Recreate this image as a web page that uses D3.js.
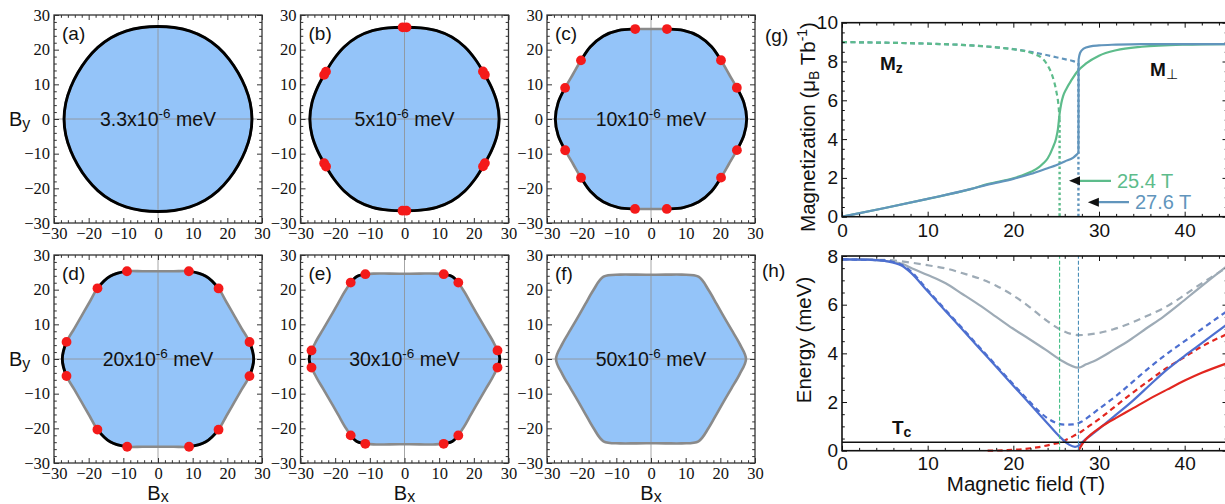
<!DOCTYPE html>
<html>
<head>
<meta charset="utf-8">
<script src="https://cdn.jsdelivr.net/npm/d3@7"></script>
<style>
  body { margin: 0; background: #fff; }
  svg { display: block; }
</style>
</head>
<body>
<svg id="fig" width="1225" height="504"></svg>
<script>
// ================= data =================

// Panels (a)-(f): critical-field contour in the (Bx, By) plane, in tesla,
// given as radius at each polar angle (degrees).
const panelTags   = ["(a)", "(b)", "(c)", "(d)", "(e)", "(f)"];
const panelLevels = ["3.3", "5", "10", "20", "30", "50"];   // x10^-6 meV
const contourAngles = [0,10,20,30,40,50,60,70,80,90,100,110,120,130,140,150,160,170,
                       180,190,200,210,220,230,240,250,260,270,280,290,300,310,320,330,340,350];
const radiusA = [27.1,27.0,26.8,26.7,26.8,27.0, 27.1,27.0,26.8,26.7,26.8,27.0, 27.1,27.0,26.8,26.7,26.8,27.0,
                 27.1,27.0,26.8,26.7,26.8,27.0, 27.1,27.0,26.8,26.7,26.8,27.0, 27.1,27.0,26.8,26.7,26.8,27.0];
const radiusB = [27.3,27.1,26.7,26.45,26.7,27.1, 27.3,27.1,26.7,26.45,26.7,27.1, 27.3,27.1,26.7,26.45,26.7,27.1,
                 27.3,27.1,26.7,26.45,26.7,27.1, 27.3,27.1,26.7,26.45,26.7,27.1, 27.3,27.1,26.7,26.45,26.7,27.1];
const radiusC = [27.6,27.2,26.35,25.95,26.35,27.2, 27.6,27.2,26.35,25.95,26.35,27.2, 27.6,27.2,26.35,25.95,26.35,27.2,
                 27.6,27.2,26.35,25.95,26.35,27.2, 27.6,27.2,26.35,25.95,26.35,27.2, 27.6,27.2,26.35,25.95,26.35,27.2];
const radiusD = [27.6,26.9,25.7,25.3,25.7,26.9, 27.6,26.9,25.7,25.3,25.7,26.9, 27.6,26.9,25.7,25.3,25.7,26.9,
                 27.6,26.9,25.7,25.3,25.7,26.9, 27.6,26.9,25.7,25.3,25.7,26.9, 27.6,26.9,25.7,25.3,25.7,26.9];
const radiusE = [27.5,26.2,25.0,24.6,25.0,26.2, 27.5,26.2,25.0,24.6,25.0,26.2, 27.5,26.2,25.0,24.6,25.0,26.2,
                 27.5,26.2,25.0,24.6,25.0,26.2, 27.5,26.2,25.0,24.6,25.0,26.2, 27.5,26.2,25.0,24.6,25.0,26.2];
const radiusF = [27.4,25.9,24.7,24.3,24.7,25.9, 27.4,25.9,24.7,24.3,24.7,25.9, 27.4,25.9,24.7,24.3,24.7,25.9,
                 27.4,25.9,24.7,24.3,24.7,25.9, 27.4,25.9,24.7,24.3,24.7,25.9, 27.4,25.9,24.7,24.3,24.7,25.9];
const panelRadii = [radiusA, radiusB, radiusC, radiusD, radiusE, radiusF];
// first-order (black) arcs are centred on these directions; second-order (gray)
// arcs are centred half-way between them with the given half-width in degrees
const firstOrderDirs = [0, 60, 120, 180, 240, 300];
const secondOrderDirs = [30, 90, 150, 210, 270, 330];
const grayHalfWidth = [0, 1.2, 10, 19.4, 24.8, 30];

const bTicks = [-30, -20, -10, 0, 10, 20, 30];
const bTickLabels = ["\u221230", "\u221220", "\u221210", "0", "10", "20", "30"];

// Panel (g): magnetization vs field (T) for the two critical fields
const critFields = [25.4, 27.6];
const critLabels = ["25.4 T", "27.6 T"];

const fieldPerpA = [0, 5, 10, 15, 17, 20, 21, 22, 23, 23.5, 24, 24.6, 25, 25.2, 25.4, 25.6, 25.8, 26.2, 26.8, 27.5, 28.5, 30, 32, 35, 40, 45];
const mPerpA     = [0, 0.45, 0.92, 1.42, 1.68, 1.98, 2.12, 2.3, 2.55, 2.75, 3.0, 3.55, 4.05, 4.5, 5.3, 5.85, 6.2, 6.6, 7.05, 7.5, 7.9, 8.3, 8.58, 8.76, 8.87, 8.9];
const fieldPerpB = [0, 5, 10, 15, 17, 20, 22, 24, 25, 26, 27, 27.4, 27.6, 27.62, 27.8, 28.2, 29, 30, 32, 35, 40, 45];
const mPerpB     = [0, 0.45, 0.92, 1.42, 1.65, 1.95, 2.2, 2.5, 2.65, 2.85, 3.05, 3.2, 3.3, 8.1, 8.45, 8.66, 8.78, 8.83, 8.87, 8.9, 8.9, 8.9];
const fieldZA = [0, 5, 10, 15, 18, 20, 21.5, 22.5, 23.4, 24.0, 24.6, 25.0, 25.3, 25.4];
const mZA     = [9.0, 8.97, 8.92, 8.83, 8.73, 8.63, 8.52, 8.38, 8.15, 7.8, 7.2, 6.5, 5.6, 5.0];
const fieldZB = [0, 5, 10, 15, 18, 20, 22, 24, 25, 26, 27, 27.6];
const mZB     = [9.0, 8.97, 8.92, 8.83, 8.73, 8.64, 8.5, 8.32, 8.22, 8.12, 8.02, 7.92];

// Panel (h): excitation energies (meV) vs field (T)
const fieldGray   = [0, 3, 5, 7, 8.2, 10, 12.1, 14, 16, 18, 19.9, 21.9, 23.8, 25.5, 27.6, 28.5, 29.7, 31.6, 33.6, 35.5, 37.5, 39.5, 41.4, 43, 45];
const eGraySolid  = [7.86, 7.85, 7.8, 7.68, 7.49, 7.22, 6.88, 6.45, 5.99, 5.5, 5.03, 4.58, 4.14, 3.73, 3.41, 3.55, 3.73, 4.12, 4.55, 5.02, 5.5, 6.05, 6.6, 7.05, 7.6];
const fieldGrayD  = [0, 5, 8.2, 10, 12.1, 14, 16, 18, 19.9, 21.9, 23.8, 25.5, 27.6, 29.7, 31.6, 33.6, 35.5, 37.5, 39.5, 41.4, 43, 45];
const eGrayDashed = [7.86, 7.84, 7.72, 7.62, 7.49, 7.3, 7.08, 6.78, 6.4, 5.9, 5.37, 4.98, 4.75, 4.82, 4.98, 5.23, 5.52, 5.85, 6.28, 6.74, 7.1, 7.55];
const fieldBlue   = [0, 3, 5, 6, 7, 8, 10, 12, 14, 16, 18, 20, 22, 24, 25.4, 26.5, 27.2, 27.6, 28.2, 29, 30, 32, 34, 36, 38, 40, 42, 45];
const eBlueSolid  = [7.86, 7.85, 7.8, 7.72, 7.6, 7.33, 6.55, 5.77, 5.0, 4.22, 3.45, 2.67, 1.9, 1.12, 0.58, 0.25, 0.16, 0.2, 0.4, 0.62, 0.9, 1.48, 2.07, 2.72, 3.35, 3.9, 4.42, 5.2];
const fieldBlueD  = [0, 5, 6, 7, 8, 10, 12, 14, 16, 18, 20, 22, 23, 24, 25, 26, 27, 28, 29, 30, 32, 34, 36, 38, 40, 42, 45];
const eBlueDashed = [7.86, 7.82, 7.75, 7.63, 7.38, 6.6, 5.82, 5.05, 4.27, 3.5, 2.73, 1.98, 1.62, 1.33, 1.14, 1.07, 1.08, 1.2, 1.45, 1.72, 2.25, 2.85, 3.45, 4.0, 4.5, 5.0, 5.75];
const fieldRed    = [27.6, 28, 28.5, 29, 30, 31, 32, 34, 36, 38, 40, 42, 45];
const eRedSolid   = [0, 0.25, 0.48, 0.65, 0.92, 1.15, 1.35, 1.75, 2.15, 2.52, 2.88, 3.2, 3.6];
const fieldRedD   = [17, 19, 21, 22, 23, 24, 25, 26, 27, 28, 29, 30, 32, 34, 36, 38, 40, 42, 45];
const eRedDashed  = [0, 0.02, 0.06, 0.1, 0.15, 0.22, 0.3, 0.42, 0.6, 0.8, 1.05, 1.3, 1.85, 2.4, 2.92, 3.42, 3.85, 4.28, 4.8];
const tcEnergy = 0.35;

const fieldTicks = [0, 10, 20, 30, 40];
const fieldTickLabels = ["0", "10", "20", "30", "40"];
const magTicks = [0, 2, 4, 6, 8, 10];
const magTickLabels = ["0", "2", "4", "6", "8", "10"];
const energyTicks = [0, 2, 4, 6, 8];
const energyTickLabels = ["0", "2", "4", "6", "8"];

// ================= drawing =================
const svg = d3.select("#fig");
const defs = svg.append("defs");
const SANS = "'Liberation Sans', Arial, Helvetica, sans-serif";
const SERIF = "'Liberation Serif', 'Times New Roman', serif";

const FILL_BLUE = "#94c4f9";
const EDGE_GRAY = "#8a8a8a";
const DOT_RED = "#f41a1a";

// frame with inward ticks on all four sides
function frame(g, x, y, opt) {
  const [x0, x1] = x.range();
  const [yb, yt] = y.range();
  const place = (axis, tx, ty) => {
    const a = g.append("g").attr("transform", `translate(${tx},${ty})`).call(axis);
    a.select(".domain").remove();
    a.selectAll(".tick line").attr("stroke", opt.color).attr("stroke-width", 1);
    return a;
  };
  const mk = (gen, scale, vals, len, fmt) => gen(scale).tickValues(vals).tickSize(-len).tickFormat(fmt || (() => ""));
  // minor ticks
  place(mk(d3.axisBottom, x, opt.xMinor, opt.minorLen), 0, yb);
  place(mk(d3.axisTop, x, opt.xMinor, opt.minorLen), 0, yt);
  place(mk(d3.axisLeft, y, opt.yMinor, opt.minorLen), x0, 0);
  place(mk(d3.axisRight, y, opt.yMinor, opt.minorLen), x1, 0);
  // major ticks with labels on bottom and left
  const bx = place(mk(d3.axisBottom, x, opt.xMajor, opt.majorLen, (d, i) => opt.xLabels[i]).tickPadding(opt.xPad), 0, yb);
  place(mk(d3.axisTop, x, opt.xMajor, opt.majorLen), 0, yt);
  const ly = place(mk(d3.axisLeft, y, opt.yMajor, opt.majorLen, (d, i) => opt.yLabels[i]).tickPadding(opt.yPad), x0, 0);
  place(mk(d3.axisRight, y, opt.yMajor, opt.majorLen), x1, 0);
  [bx, ly].forEach(a => a.selectAll("text")
    .attr("font-family", opt.font).attr("font-size", opt.fontSize).attr("fill", "#111"));
  g.append("rect").attr("x", x0).attr("y", yt).attr("width", x1 - x0).attr("height", yb - yt)
    .attr("fill", "none").attr("stroke", opt.color).attr("stroke-width", opt.frameWidth);
}

// ---------- panels (a)-(f) ----------
const hexOrigins = [[54, 15], [300.5, 15], [547, 15], [54, 255], [300.5, 255], [547, 255]];
const hexSize = 208;
const toRad = d => d * Math.PI / 180;

panelTags.forEach((tag, i) => {
  const [ox, oy] = hexOrigins[i];
  const x = d3.scaleLinear().domain([-30, 30]).range([ox, ox + hexSize]);
  const y = d3.scaleLinear().domain([-30, 30]).range([oy + hexSize, oy]);
  const g = svg.append("g");
  const cx = x(0), cy = y(0);

  const pts = contourAngles.map((a, k) => {
    const r = panelRadii[i][k];
    return [x(r * Math.cos(toRad(a))), y(r * Math.sin(toRad(a)))];
  });
  const closed = d3.line().curve(d3.curveCatmullRomClosed.alpha(0.5));
  const d = closed(pts);

  g.append("path").attr("d", d).attr("fill", FILL_BLUE);

  // axis cross
  g.append("line").attr("x1", x(0)).attr("x2", x(0)).attr("y1", y(30)).attr("y2", y(-30))
    .attr("stroke", "#8f8f8f").attr("stroke-width", 0.8);
  g.append("line").attr("x1", x(-30)).attr("x2", x(30)).attr("y1", y(0)).attr("y2", y(0))
    .attr("stroke", "#8f8f8f").attr("stroke-width", 0.8);

  const outline = g.append("path").attr("d", d).attr("fill", "none")
    .attr("stroke", EDGE_GRAY).attr("stroke-width", 2.6).attr("stroke-linejoin", "round");

  const blackHalf = 30 - grayHalfWidth[i];
  if (blackHalf > 0) {
    const clip = defs.append("clipPath").attr("id", "firstOrder" + i);
    const wedge = d3.arc().innerRadius(0).outerRadius(hexSize);
    firstOrderDirs.forEach(c => {
      clip.append("path")
        .attr("transform", `translate(${cx},${cy})`)
        .attr("d", wedge({ startAngle: toRad(90 - (c + blackHalf)), endAngle: toRad(90 - (c - blackHalf)) }));
    });
    g.append("path").attr("d", d).attr("fill", "none")
      .attr("stroke", "#000").attr("stroke-width", 2.9)
      .attr("clip-path", `url(#firstOrder${i})`);
  }

  // transition points where the arcs change
  if (grayHalfWidth[i] > 0 && grayHalfWidth[i] < 30) {
    const node = outline.node();
    const L = node.getTotalLength();
    const samples = d3.range(0, 2000).map(k => {
      const p = node.getPointAtLength(L * k / 2000);
      let ang = Math.atan2(cy - p.y, p.x - cx) * 180 / Math.PI;
      if (ang < 0) ang += 360;
      return { x: p.x, y: p.y, ang };
    });
    const angDiff = (a, b) => { const t = Math.abs(a - b) % 360; return t > 180 ? 360 - t : t; };
    const dotAngles = [];
    secondOrderDirs.forEach(c => { dotAngles.push(c - grayHalfWidth[i], c + grayHalfWidth[i]); });
    const dots = dotAngles.map(a => d3.least(samples, s => angDiff(s.ang, (a + 360) % 360)));
    g.selectAll("circle.dot").data(dots).join("circle").attr("class", "dot")
      .attr("cx", p => p.x).attr("cy", p => p.y).attr("r", 4.9).attr("fill", DOT_RED);
  }

  // level label
  const t = g.append("text").attr("x", cx).attr("y", cy + 6.5).attr("text-anchor", "middle")
    .attr("font-family", SANS).attr("font-size", 19.5).attr("fill", "#111");
  t.append("tspan").text(panelLevels[i] + "x10");
  t.append("tspan").attr("dy", -8).attr("font-size", 13.5).text("-6");
  t.append("tspan").attr("dy", 8).text(" meV");

  // panel tag
  g.append("text").attr("x", ox + 8).attr("y", oy + 25).attr("font-family", SANS)
    .attr("font-size", 19).attr("fill", "#111").text(tag);

  frame(g, x, y, {
    xMajor: bTicks, yMajor: bTicks, xLabels: bTickLabels, yLabels: bTickLabels,
    xMinor: d3.range(-28, 30, 2).filter(v => v % 10 !== 0),
    yMinor: d3.range(-28, 30, 2).filter(v => v % 10 !== 0),
    majorLen: 5, minorLen: 2.8, xPad: 4, yPad: 4, font: SERIF, fontSize: 16.5,
    color: "#333", frameWidth: 1.3
  });

  // axis titles
  if (i % 3 === 0) {
    const by = g.append("text").attr("x", 9).attr("y", cy + 7).attr("font-family", SANS)
      .attr("font-size", 20).attr("fill", "#111");
    by.append("tspan").text("B");
    by.append("tspan").attr("dy", 3).attr("font-size", 16).text("y");
  }
  if (i >= 3) {
    const bx = g.append("text").attr("x", cx).attr("y", 500).attr("text-anchor", "middle")
      .attr("font-family", SANS).attr("font-size", 20).attr("fill", "#111");
    bx.append("tspan").text("B");
    bx.append("tspan").attr("dy", 2).attr("font-size", 16).text("x");
  }
});

// ---------- panels (g) and (h) ----------
const GREEN = "#5dbc8b";
const STEEL = "#6195bc";
const H_GRAY = "#9eabb6";
const H_BLUE = "#4d6fd0";
const H_RED = "#e2261f";

const xF = d3.scaleLinear().domain([0, 45]).range([842, 1227.5]);
const yM = d3.scaleLinear().domain([0, 10]).range([216.7, 22.7]);
const yE = d3.scaleLinear().domain([0, 8]).range([450.7, 256]);

const gG = svg.append("g");
const gH = svg.append("g");

const curveM = (xs, ys, yScale) => d3.line().curve(d3.curveMonotoneX)
  .x((v, k) => xF(xs[k])).y((v, k) => yScale(ys[k]))(ys);

function series(g, xs, ys, yScale, color, width, dash) {
  g.append("path").attr("d", curveM(xs, ys, yScale)).attr("fill", "none")
    .attr("stroke", color).attr("stroke-width", width)
    .attr("stroke-dasharray", dash || null).attr("stroke-linecap", "butt");
}

// (g) magnetization curves
series(gG, fieldZB, mZB, yM, STEEL, 2.2, "5,3.5");
series(gG, fieldZA, mZA, yM, GREEN, 2.2, "5,3.5");
[[fieldZA, mZA, GREEN], [fieldZB, mZB, STEEL]].forEach(([xs, ys, col]) => {
  const last = xs.length - 1;
  gG.append("line").attr("x1", xF(xs[last])).attr("x2", xF(xs[last]))
    .attr("y1", yM(ys[last])).attr("y2", yM(0))
    .attr("stroke", col).attr("stroke-width", 2.4).attr("stroke-dasharray", "2.6,2.6");
});
series(gG, fieldPerpA, mPerpA, yM, GREEN, 2.2);
series(gG, fieldPerpB, mPerpB, yM, STEEL, 2.2);

// critical-field annotations (tip / tail in data units)
const arrowTipField = [26.5, 28.7];
const arrowTipMag = [1.85, 0.75];
const arrowTailField = [31.4, 33.5];
[GREEN, STEEL].forEach((col, k) => {
  const tx = xF(arrowTipField[k]), ty = yM(arrowTipMag[k]);
  gG.append("line").attr("x1", tx + 9).attr("x2", xF(arrowTailField[k])).attr("y1", ty).attr("y2", ty)
    .attr("stroke", col).attr("stroke-width", 2.2);
  gG.append("path").attr("d", `M${tx},${ty} L${tx + 11},${ty - 4.5} L${tx + 11},${ty + 4.5} Z`).attr("fill", "#111");
  gG.append("text").attr("x", xF(arrowTailField[k]) + 6).attr("y", ty + 7)
    .attr("font-family", SANS).attr("font-size", 20).attr("fill", col).text(critLabels[k]);
});

// Mz / M-perp labels
const mz = gG.append("text").attr("x", 880).attr("y", 70).attr("font-family", SANS)
  .attr("font-size", 19).attr("font-weight", "bold").attr("fill", "#111");
mz.append("tspan").text("M");
mz.append("tspan").attr("dy", 3).attr("font-size", 14).text("z");
const mp = gG.append("text").attr("x", 1150).attr("y", 76).attr("font-family", SANS)
  .attr("font-size", 19).attr("font-weight", "bold").attr("fill", "#111");
mp.append("tspan").text("M");
mp.append("tspan").attr("dy", 3).attr("font-size", 14).attr("font-weight", "normal").text("\u22a5");

frame(gG, xF, yM, {
  xMajor: fieldTicks, yMajor: magTicks, xLabels: fieldTickLabels, yLabels: magTickLabels,
  xMinor: d3.range(2, 46, 2).filter(v => v % 10 !== 0),
  yMinor: d3.range(0.5, 10, 0.5).filter(v => v % 2 !== 0),
  majorLen: 5, minorLen: 2.8, xPad: 7, yPad: 4, font: SANS, fontSize: 19,
  color: "#111", frameWidth: 1.6
});

// (h) energy curves
series(gH, fieldGrayD, eGrayDashed, yE, H_GRAY, 2.2, "7,5");
series(gH, fieldGray, eGraySolid, yE, H_GRAY, 2.2);
series(gH, fieldBlueD, eBlueDashed, yE, H_BLUE, 2.2, "5.5,4");
series(gH, fieldRedD, eRedDashed, yE, H_RED, 2.2, "5.5,4");
series(gH, fieldBlue, eBlueSolid, yE, H_BLUE, 2.2);
series(gH, fieldRed, eRedSolid, yE, H_RED, 2.2);

gH.append("line").attr("x1", xF(0)).attr("x2", xF(45)).attr("y1", yE(tcEnergy)).attr("y2", yE(tcEnergy))
  .attr("stroke", "#111").attr("stroke-width", 1.6);
[["#3fbf85", critFields[0]], ["#4b8fb8", critFields[1]]].forEach(([col, f]) => {
  gH.append("line").attr("x1", xF(f)).attr("x2", xF(f)).attr("y1", yE(0)).attr("y2", yE(8))
    .attr("stroke", col).attr("stroke-width", 1.1).attr("stroke-dasharray", "4,2");
});

const tc = gH.append("text").attr("x", 892).attr("y", 434).attr("font-family", SANS)
  .attr("font-size", 19).attr("font-weight", "bold").attr("fill", "#111");
tc.append("tspan").text("T");
tc.append("tspan").attr("dy", 3).attr("font-size", 14).text("c");

frame(gH, xF, yE, {
  xMajor: fieldTicks, yMajor: energyTicks, xLabels: fieldTickLabels, yLabels: energyTickLabels,
  xMinor: d3.range(2, 46, 2).filter(v => v % 10 !== 0),
  yMinor: d3.range(0.5, 8, 0.5).filter(v => v % 2 !== 0),
  majorLen: 5, minorLen: 2.8, xPad: 6, yPad: 4, font: SANS, fontSize: 19,
  color: "#111", frameWidth: 1.6
});

// titles and tags for (g)/(h)
svg.append("text").attr("x", 765).attr("y", 42).attr("font-family", SANS).attr("font-size", 19)
  .attr("fill", "#111").text("(g)");
svg.append("text").attr("x", 762).attr("y", 277).attr("font-family", SANS).attr("font-size", 19)
  .attr("fill", "#111").text("(h)");

const ml = svg.append("text").attr("transform", "translate(815,127) rotate(-90)")
  .attr("text-anchor", "middle").attr("font-family", SANS).attr("font-size", 20.5).attr("fill", "#111");
ml.append("tspan").text("Magnetization (\u03bc");
ml.append("tspan").attr("dy", 4).attr("font-size", 14).text("B");
ml.append("tspan").attr("dy", -4).text(" Tb");
ml.append("tspan").attr("dy", -8).attr("font-size", 14).text("-1");
ml.append("tspan").attr("dy", 8).text(")");

svg.append("text").attr("transform", "translate(811,340) rotate(-90)")
  .attr("text-anchor", "middle").attr("font-family", SANS).attr("font-size", 20.5).attr("fill", "#111")
  .text("Energy (meV)");

svg.append("text").attr("x", 1026).attr("y", 491).attr("text-anchor", "middle")
  .attr("font-family", SANS).attr("font-size", 20.5).attr("fill", "#111")
  .text("Magnetic field (T)");
</script>
</body>
</html>
